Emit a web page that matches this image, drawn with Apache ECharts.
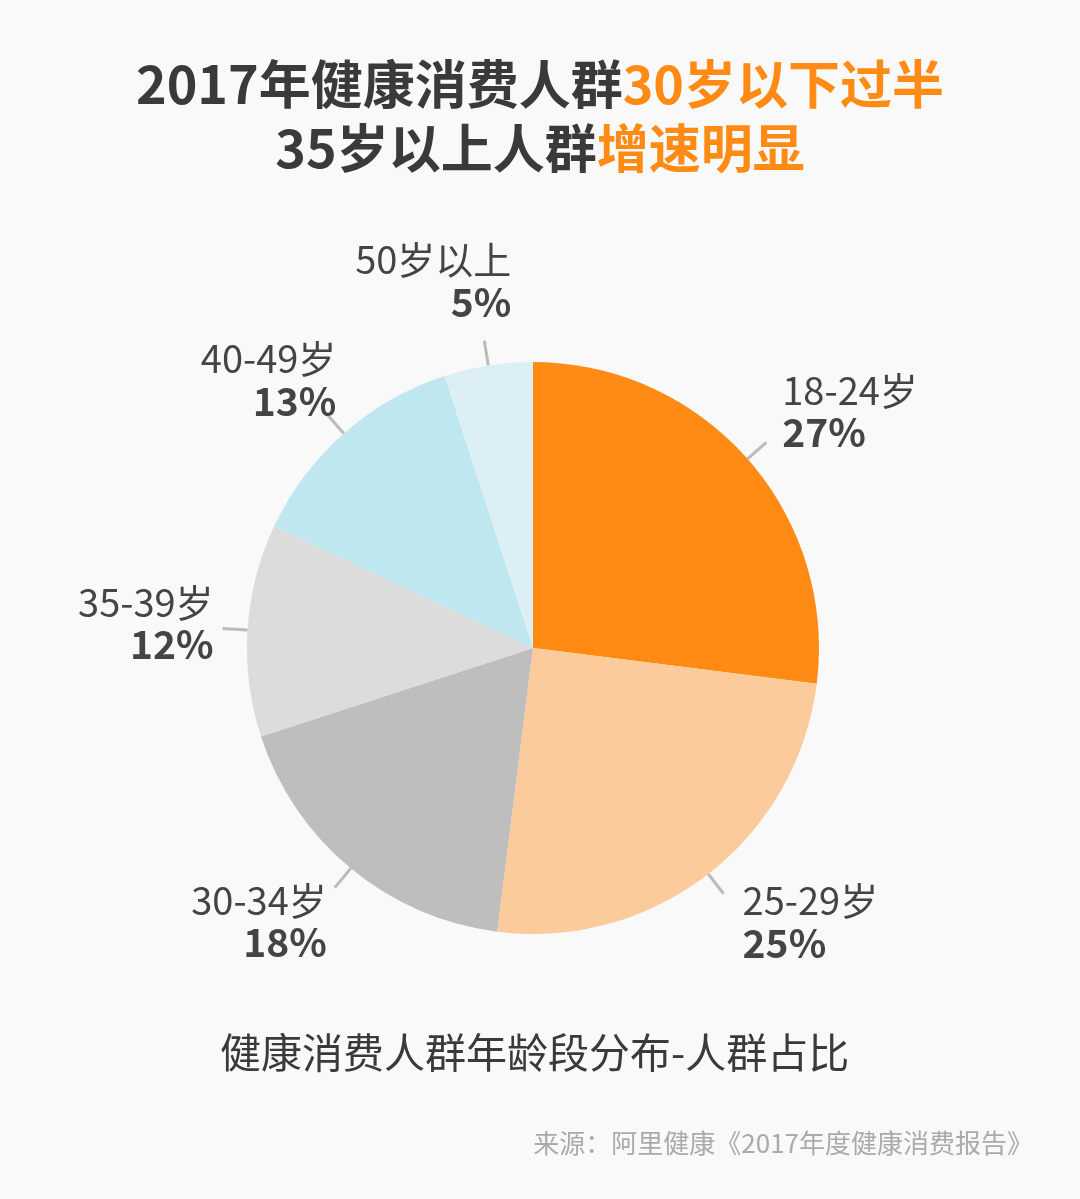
<!DOCTYPE html>
<html>
<head>
<meta charset="utf-8">
<script src="https://cdn.jsdelivr.net/npm/echarts@6/dist/echarts.min.js"></script>
<style>
html,body{margin:0;padding:0;background:#f9f9f9;}
#c{width:1080px;height:1199px;}
</style>
</head>
<body>
<div id="c"></div>
<script>
const categories = ['18-24岁', '25-29岁', '30-34岁', '35-39岁', '40-49岁', '50岁以上'];
const values = [27, 25, 18, 12, 13, 5];
const colors = ['#FF8A14', '#FCCB9C', '#BEBEBE', '#DCDCDC', '#BEE7EF', '#DCEFF4'];
const labelShift = [[11, -31], [14, 28], [-3, 34], [-4, -5], [14, -35], [32, -60]];

const FONT = '"Noto Sans CJK SC", "Noto Sans", sans-serif';
const chart = echarts.init(document.getElementById('c'));
chart.setOption({
  backgroundColor: '#f9f9f9',
  title: [
    {
      text: '{a|2017年健康消费人群}{b|30岁以下过半}\n{a|35岁以上人群}{b|增速明显}',
      left: 'center', top: 47,
      textStyle: {
        rich: {
          a: { fontFamily: FONT, fontSize: 52, fontWeight: 'bold', color: '#3a3a3a', lineHeight: 64 },
          b: { fontFamily: FONT, fontSize: 52, fontWeight: 'bold', color: '#FF8A14', lineHeight: 64 }
        }
      }
    },
    {
      text: '健康消费人群年龄段分布-人群占比',
      left: 215, top: 1027,
      textStyle: { fontFamily: FONT, fontSize: 41, fontWeight: 'normal', color: '#3a3a3a' }
    },
    {
      text: '来源：阿里健康《2017年度健康消费报告》',
      right: 42, top: 1125,
      textStyle: { fontFamily: FONT, fontSize: 26, fontWeight: 'normal', color: '#aaaaaa' }
    }
  ],
  series: [{
    type: 'pie',
    center: [533, 648],
    radius: [0, 286],
    startAngle: 90,
    clockwise: true,
    avoidLabelOverlap: false,
    animation: false,
    data: categories.map((c, i) => ({ name: c, value: values[i], itemStyle: { color: colors[i] } })),
    label: {
      show: true,
      position: 'outside',
      formatter: p => '{n|' + p.name + '}\n{p|' + p.value + '%}',
      rich: {
        n: { fontFamily: FONT, fontSize: 38, color: '#444444', lineHeight: 42 },
        p: { fontFamily: FONT, fontSize: 39, fontWeight: 'bold', color: '#444444', lineHeight: 42 }
      }
    },
    labelLine: {
      show: true,
      length: 25,
      length2: 0,
      lineStyle: { color: '#bbbbbb', width: 3 }
    },
    labelLayout: params => ({ dx: labelShift[params.dataIndex][0], dy: labelShift[params.dataIndex][1] })
  }]
});
</script>
</body>
</html>
